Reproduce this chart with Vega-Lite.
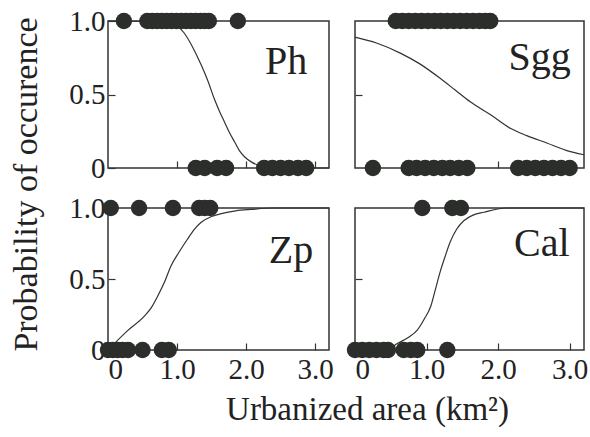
{
  "$schema": "https://vega.github.io/schema/vega-lite/v6.json",
  "background": "white",
  "padding": {"left": 8, "top": 6, "right": 0, "bottom": 0},
  "bounds": "flush",
  "align": "each",
  "columns": 2,
  "spacing": {"row": 40, "column": 26},
  "config": {
    "font": "Liberation Serif",
    "view": {"stroke": "#333", "strokeWidth": 1.5},
    "axis": {
      "grid": false,
      "domain": false,
      "tickColor": "#333",
      "tickWidth": 1.2,
      "tickSize": -7,
      "labelFont": "Liberation Serif",
      "labelFontSize": 29,
      "labelColor": "#222",
      "titleFont": "Liberation Serif",
      "titleFontWeight": "normal",
      "titleColor": "#222"
    }
  },
  "datasets": {
    "points": [
      {"panel": "Ph", "x": 0.23, "y": 1}, {"panel": "Ph", "x": 0.57, "y": 1}, {"panel": "Ph", "x": 0.64, "y": 1}, {"panel": "Ph", "x": 0.71, "y": 1}, {"panel": "Ph", "x": 0.78, "y": 1}, {"panel": "Ph", "x": 0.85, "y": 1}, {"panel": "Ph", "x": 0.92, "y": 1}, {"panel": "Ph", "x": 0.99, "y": 1}, {"panel": "Ph", "x": 1.06, "y": 1}, {"panel": "Ph", "x": 1.13, "y": 1}, {"panel": "Ph", "x": 1.2, "y": 1}, {"panel": "Ph", "x": 1.27, "y": 1}, {"panel": "Ph", "x": 1.34, "y": 1}, {"panel": "Ph", "x": 1.4, "y": 1}, {"panel": "Ph", "x": 1.46, "y": 1}, {"panel": "Ph", "x": 1.88, "y": 1},
      {"panel": "Ph", "x": 1.27, "y": 0}, {"panel": "Ph", "x": 1.4, "y": 0}, {"panel": "Ph", "x": 1.58, "y": 0}, {"panel": "Ph", "x": 1.71, "y": 0}, {"panel": "Ph", "x": 2.26, "y": 0}, {"panel": "Ph", "x": 2.38, "y": 0}, {"panel": "Ph", "x": 2.5, "y": 0}, {"panel": "Ph", "x": 2.62, "y": 0}, {"panel": "Ph", "x": 2.75, "y": 0}, {"panel": "Ph", "x": 2.87, "y": 0},
      {"panel": "Sgg", "x": 0.57, "y": 1}, {"panel": "Sgg", "x": 0.66, "y": 1}, {"panel": "Sgg", "x": 0.75, "y": 1}, {"panel": "Sgg", "x": 0.84, "y": 1}, {"panel": "Sgg", "x": 0.93, "y": 1}, {"panel": "Sgg", "x": 1.02, "y": 1}, {"panel": "Sgg", "x": 1.11, "y": 1}, {"panel": "Sgg", "x": 1.2, "y": 1}, {"panel": "Sgg", "x": 1.29, "y": 1}, {"panel": "Sgg", "x": 1.38, "y": 1}, {"panel": "Sgg", "x": 1.47, "y": 1}, {"panel": "Sgg", "x": 1.56, "y": 1}, {"panel": "Sgg", "x": 1.65, "y": 1}, {"panel": "Sgg", "x": 1.74, "y": 1}, {"panel": "Sgg", "x": 1.82, "y": 1}, {"panel": "Sgg", "x": 1.89, "y": 1},
      {"panel": "Sgg", "x": 0.25, "y": 0}, {"panel": "Sgg", "x": 0.75, "y": 0}, {"panel": "Sgg", "x": 0.86, "y": 0}, {"panel": "Sgg", "x": 0.98, "y": 0}, {"panel": "Sgg", "x": 1.1, "y": 0}, {"panel": "Sgg", "x": 1.22, "y": 0}, {"panel": "Sgg", "x": 1.33, "y": 0}, {"panel": "Sgg", "x": 1.45, "y": 0}, {"panel": "Sgg", "x": 1.57, "y": 0}, {"panel": "Sgg", "x": 2.28, "y": 0}, {"panel": "Sgg", "x": 2.4, "y": 0}, {"panel": "Sgg", "x": 2.52, "y": 0}, {"panel": "Sgg", "x": 2.64, "y": 0}, {"panel": "Sgg", "x": 2.76, "y": 0}, {"panel": "Sgg", "x": 2.88, "y": 0}, {"panel": "Sgg", "x": 3.0, "y": 0},
      {"panel": "Zp", "x": 0.04, "y": 1}, {"panel": "Zp", "x": 0.45, "y": 1}, {"panel": "Zp", "x": 0.94, "y": 1}, {"panel": "Zp", "x": 1.32, "y": 1}, {"panel": "Zp", "x": 1.4, "y": 1}, {"panel": "Zp", "x": 1.48, "y": 1},
      {"panel": "Zp", "x": 0.0, "y": 0}, {"panel": "Zp", "x": 0.07, "y": 0}, {"panel": "Zp", "x": 0.14, "y": 0}, {"panel": "Zp", "x": 0.21, "y": 0}, {"panel": "Zp", "x": 0.29, "y": 0}, {"panel": "Zp", "x": 0.5, "y": 0}, {"panel": "Zp", "x": 0.78, "y": 0}, {"panel": "Zp", "x": 0.88, "y": 0},
      {"panel": "Cal", "x": 0.94, "y": 1}, {"panel": "Cal", "x": 1.36, "y": 1}, {"panel": "Cal", "x": 1.48, "y": 1},
      {"panel": "Cal", "x": 0.0, "y": 0}, {"panel": "Cal", "x": 0.1, "y": 0}, {"panel": "Cal", "x": 0.2, "y": 0}, {"panel": "Cal", "x": 0.3, "y": 0}, {"panel": "Cal", "x": 0.4, "y": 0}, {"panel": "Cal", "x": 0.46, "y": 0}, {"panel": "Cal", "x": 0.68, "y": 0}, {"panel": "Cal", "x": 0.78, "y": 0}, {"panel": "Cal", "x": 0.87, "y": 0}, {"panel": "Cal", "x": 1.29, "y": 0}
    ],
    "curves": [
      {"panel": "Ph", "x": 0.0, "p": 1.0}, {"panel": "Ph", "x": 0.9, "p": 0.995}, {"panel": "Ph", "x": 1.0, "p": 0.97}, {"panel": "Ph", "x": 1.1, "p": 0.92}, {"panel": "Ph", "x": 1.25, "p": 0.8}, {"panel": "Ph", "x": 1.35, "p": 0.7}, {"panel": "Ph", "x": 1.44, "p": 0.6}, {"panel": "Ph", "x": 1.54, "p": 0.47}, {"panel": "Ph", "x": 1.62, "p": 0.38}, {"panel": "Ph", "x": 1.69, "p": 0.31}, {"panel": "Ph", "x": 1.76, "p": 0.24}, {"panel": "Ph", "x": 1.83, "p": 0.18}, {"panel": "Ph", "x": 1.9, "p": 0.12}, {"panel": "Ph", "x": 1.98, "p": 0.075}, {"panel": "Ph", "x": 2.08, "p": 0.04}, {"panel": "Ph", "x": 2.17, "p": 0.02}, {"panel": "Ph", "x": 2.3, "p": 0.005}, {"panel": "Ph", "x": 3.2, "p": 0.0},
      {"panel": "Sgg", "x": 0.0, "p": 0.89}, {"panel": "Sgg", "x": 0.3, "p": 0.85}, {"panel": "Sgg", "x": 0.64, "p": 0.78}, {"panel": "Sgg", "x": 0.9, "p": 0.71}, {"panel": "Sgg", "x": 1.19, "p": 0.61}, {"panel": "Sgg", "x": 1.4, "p": 0.53}, {"panel": "Sgg", "x": 1.61, "p": 0.45}, {"panel": "Sgg", "x": 1.9, "p": 0.36}, {"panel": "Sgg", "x": 2.17, "p": 0.27}, {"panel": "Sgg", "x": 2.4, "p": 0.22}, {"panel": "Sgg", "x": 2.68, "p": 0.17}, {"panel": "Sgg", "x": 2.95, "p": 0.12}, {"panel": "Sgg", "x": 3.2, "p": 0.09},
      {"panel": "Zp", "x": 0.0, "p": 0.0}, {"panel": "Zp", "x": 0.28, "p": 0.135}, {"panel": "Zp", "x": 0.53, "p": 0.24}, {"panel": "Zp", "x": 0.63, "p": 0.3}, {"panel": "Zp", "x": 0.72, "p": 0.38}, {"panel": "Zp", "x": 0.82, "p": 0.48}, {"panel": "Zp", "x": 0.91, "p": 0.59}, {"panel": "Zp", "x": 1.03, "p": 0.69}, {"panel": "Zp", "x": 1.15, "p": 0.78}, {"panel": "Zp", "x": 1.25, "p": 0.85}, {"panel": "Zp", "x": 1.35, "p": 0.9}, {"panel": "Zp", "x": 1.5, "p": 0.94}, {"panel": "Zp", "x": 1.64, "p": 0.96}, {"panel": "Zp", "x": 1.85, "p": 0.98}, {"panel": "Zp", "x": 2.07, "p": 0.99}, {"panel": "Zp", "x": 2.4, "p": 1.0}, {"panel": "Zp", "x": 3.2, "p": 1.0},
      {"panel": "Cal", "x": 0.0, "p": 0.0}, {"panel": "Cal", "x": 0.45, "p": 0.0}, {"panel": "Cal", "x": 0.59, "p": 0.045}, {"panel": "Cal", "x": 0.75, "p": 0.09}, {"panel": "Cal", "x": 0.87, "p": 0.14}, {"panel": "Cal", "x": 0.97, "p": 0.22}, {"panel": "Cal", "x": 1.06, "p": 0.31}, {"panel": "Cal", "x": 1.12, "p": 0.42}, {"panel": "Cal", "x": 1.19, "p": 0.55}, {"panel": "Cal", "x": 1.26, "p": 0.66}, {"panel": "Cal", "x": 1.33, "p": 0.76}, {"panel": "Cal", "x": 1.42, "p": 0.85}, {"panel": "Cal", "x": 1.52, "p": 0.91}, {"panel": "Cal", "x": 1.65, "p": 0.95}, {"panel": "Cal", "x": 1.8, "p": 0.97}, {"panel": "Cal", "x": 2.12, "p": 1.0}, {"panel": "Cal", "x": 3.2, "p": 1.0}
    ],
    "labels": [
      {"panel": "Ph", "label": "Ph"}, {"panel": "Sgg", "label": "Sgg"}, {"panel": "Zp", "label": "Zp"}, {"panel": "Cal", "label": "Cal"}
    ]
  },
  "concat": [
    {
      "width": 221, "height": 147,
      "layer": [
        {"data": {"name": "curves"}, "transform": [{"filter": "datum.panel === 'Ph'"}],
         "mark": {"type": "line", "interpolate": "monotone", "color": "#333", "strokeWidth": 1.2},
         "encoding": {
           "x": {"field": "x", "type": "quantitative", "scale": {"domain": [0, 3.2], "nice": false, "zero": false}, "axis": {"values": [1, 2, 3], "labels": false, "title": null}},
           "y": {"field": "p", "type": "quantitative", "scale": {"domain": [0, 1], "nice": false}, "axis": {"values": [0, 0.5, 1], "labelExpr": "datum.value === 0 ? '0' : format(datum.value, '.1f')", "labelPadding": 10, "title": "Probability of occurence", "titleFontSize": 34, "titleAngle": 270, "titleAlign": "center", "titleBaseline": "middle", "titleX": -82, "titleY": 163}}
         }},
        {"data": {"name": "points"}, "transform": [{"filter": "datum.panel === 'Ph'"}],
         "mark": {"type": "circle", "size": 270, "color": "#2b2e2b", "opacity": 1},
         "encoding": {"x": {"field": "x", "type": "quantitative"}, "y": {"field": "y", "type": "quantitative"}}},
        {"data": {"name": "labels"}, "transform": [{"filter": "datum.panel === 'Ph'"}],
         "mark": {"type": "text", "font": "Liberation Serif", "fontSize": 40, "align": "center", "baseline": "alphabetic", "color": "#222"},
         "encoding": {"x": {"datum": 2.58, "type": "quantitative"}, "y": {"datum": 0.64, "type": "quantitative"}, "text": {"field": "label"}}}
      ]
    },
    {
      "width": 229, "height": 147,
      "layer": [
        {"data": {"name": "curves"}, "transform": [{"filter": "datum.panel === 'Sgg'"}],
         "mark": {"type": "line", "interpolate": "monotone", "color": "#333", "strokeWidth": 1.2},
         "encoding": {
           "x": {"field": "x", "type": "quantitative", "scale": {"domain": [0, 3.2], "nice": false, "zero": false}, "axis": {"values": [1, 2, 3], "labels": false, "title": null}},
           "y": {"field": "p", "type": "quantitative", "scale": {"domain": [0, 1], "nice": false}, "axis": {"values": [0.5], "labels": false, "title": null}}
         }},
        {"data": {"name": "points"}, "transform": [{"filter": "datum.panel === 'Sgg'"}],
         "mark": {"type": "circle", "size": 270, "color": "#2b2e2b", "opacity": 1},
         "encoding": {"x": {"field": "x", "type": "quantitative"}, "y": {"field": "y", "type": "quantitative"}}},
        {"data": {"name": "labels"}, "transform": [{"filter": "datum.panel === 'Sgg'"}],
         "mark": {"type": "text", "font": "Liberation Serif", "fontSize": 40, "align": "center", "baseline": "alphabetic", "color": "#222"},
         "encoding": {"x": {"datum": 2.58, "type": "quantitative"}, "y": {"datum": 0.67, "type": "quantitative"}, "text": {"field": "label"}}}
      ]
    },
    {
      "width": 221, "height": 142,
      "layer": [
        {"data": {"name": "curves"}, "transform": [{"filter": "datum.panel === 'Zp'"}],
         "mark": {"type": "line", "interpolate": "monotone", "color": "#333", "strokeWidth": 1.2},
         "encoding": {
           "x": {"field": "x", "type": "quantitative", "scale": {"domain": [0, 3.2], "nice": false, "zero": false}, "axis": {"values": [0, 1, 2, 3], "labelExpr": "datum.value === 0 ? '0' : format(datum.value, '.1f')", "labelPadding": 12, "title": "Urbanized area (km²)", "titleFontSize": 33, "titleAlign": "center", "titleBaseline": "alphabetic", "titleX": 259, "titleY": 69}},
           "y": {"field": "p", "type": "quantitative", "scale": {"domain": [0, 1], "nice": false}, "axis": {"values": [0, 0.5, 1], "labelExpr": "datum.value === 0 ? '0' : format(datum.value, '.1f')", "labelPadding": 10, "title": null}}
         }},
        {"data": {"name": "points"}, "transform": [{"filter": "datum.panel === 'Zp'"}],
         "mark": {"type": "circle", "size": 270, "color": "#2b2e2b", "opacity": 1},
         "encoding": {"x": {"field": "x", "type": "quantitative"}, "y": {"field": "y", "type": "quantitative"}}},
        {"data": {"name": "labels"}, "transform": [{"filter": "datum.panel === 'Zp'"}],
         "mark": {"type": "text", "font": "Liberation Serif", "fontSize": 40, "align": "center", "baseline": "alphabetic", "color": "#222"},
         "encoding": {"x": {"datum": 2.65, "type": "quantitative"}, "y": {"datum": 0.61, "type": "quantitative"}, "text": {"field": "label"}}}
      ]
    },
    {
      "width": 229, "height": 142,
      "layer": [
        {"data": {"name": "curves"}, "transform": [{"filter": "datum.panel === 'Cal'"}],
         "mark": {"type": "line", "interpolate": "monotone", "color": "#333", "strokeWidth": 1.2},
         "encoding": {
           "x": {"field": "x", "type": "quantitative", "scale": {"domain": [0, 3.2], "nice": false, "zero": false}, "axis": {"values": [0, 1, 2, 3], "labelExpr": "datum.value === 0 ? '0' : format(datum.value, '.1f')", "labelPadding": 12, "title": null}},
           "y": {"field": "p", "type": "quantitative", "scale": {"domain": [0, 1], "nice": false}, "axis": {"values": [0.5], "labels": false, "title": null}}
         }},
        {"data": {"name": "points"}, "transform": [{"filter": "datum.panel === 'Cal'"}],
         "mark": {"type": "circle", "size": 270, "color": "#2b2e2b", "opacity": 1},
         "encoding": {"x": {"field": "x", "type": "quantitative"}, "y": {"field": "y", "type": "quantitative"}}},
        {"data": {"name": "labels"}, "transform": [{"filter": "datum.panel === 'Cal'"}],
         "mark": {"type": "text", "font": "Liberation Serif", "fontSize": 40, "align": "center", "baseline": "alphabetic", "color": "#222"},
         "encoding": {"x": {"datum": 2.61, "type": "quantitative"}, "y": {"datum": 0.66, "type": "quantitative"}, "text": {"field": "label"}}}
      ]
    }
  ]
}
